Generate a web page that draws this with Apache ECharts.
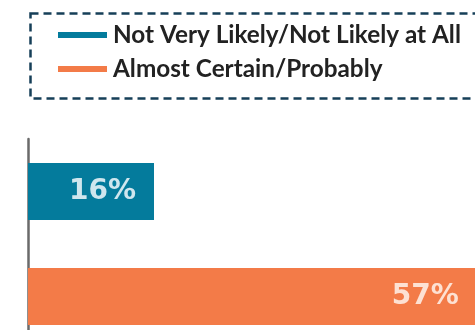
<!DOCTYPE html>
<html><head><meta charset="utf-8">
<style>html,body{margin:0;padding:0;background:#fff}#c{width:475px;height:330px}</style>
<script src="https://cdn.jsdelivr.net/npm/echarts@6/dist/echarts.min.js"></script>
</head><body><div id="c"></div>
<script>
var categories = ['Not Very Likely/Not Likely at All', 'Almost Certain/Probably'];
var values = [16, 57];
var colors = ['#047b9c', '#f37b48'];
var labelColors = ['#cfe6ee', '#fde1d3'];

var chart = echarts.init(document.getElementById('c'));
chart.setOption({
  animation: false,
  graphic: [{
    type: 'rect', left: 28, top: 11,
    shape: { width: 470, height: 85 },
    style: { fill: 'none', stroke: '#163f58', lineWidth: 2.5, lineDash: [8, 5] }
  }],
  legend: {
    left: 53, top: 18, orient: 'vertical', itemGap: 10,
    itemWidth: 49, itemHeight: 6, icon: 'rect',
    textStyle: { fontFamily: 'Lato', fontWeight: 'bold', fontSize: 24.3, lineHeight: 24, color: '#222', padding: [0, 0, 0, 1] },
    data: categories
  },
  grid: { left: 28, width: 472.5, top: 139, height: 210, containLabel: false, outerBoundsMode: 'none' },
  xAxis: { type: 'value', min: 0, max: 60, show: false },
  yAxis: {
    type: 'category', data: categories, inverse: true,
    axisLine: { show: true, lineStyle: { color: '#6a6a6a', width: 2.5 } },
    axisTick: { show: false }, axisLabel: { show: false }
  },
  series: categories.map(function (name, i) {
    var d = [null, null];
    d[i] = values[i];
    return {
      name: name, type: 'bar', stack: 'a', barWidth: 57,
      itemStyle: { color: colors[i] },
      data: d,
      label: {
        show: true, position: 'insideRight', distance: 18,
        formatter: '{c}%', color: labelColors[i],
        fontFamily: 'DejaVu Sans', fontWeight: 'bold', fontSize: 28
      }
    };
  })
});
</script></body></html>
